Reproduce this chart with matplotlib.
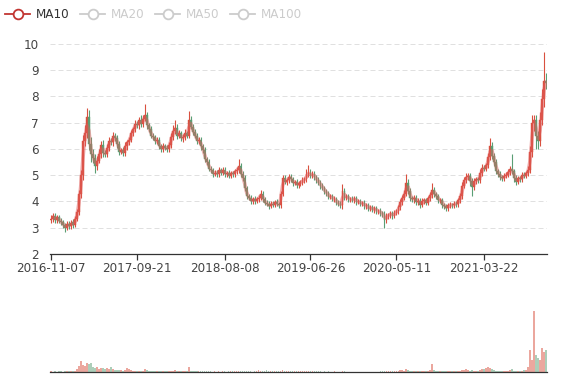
import matplotlib
matplotlib.use("Agg")
import matplotlib.pyplot as plt
import numpy as np
from matplotlib.lines import Line2D

# ---------------- data (weekly candles) ----------------
first_open = 3.3
closes = [
 3.35,3.45,3.3,3.4,3.25,3.2,3.1,3.0,3.15,3.05,
 3.2,3.1,3.35,3.6,4.3,5.0,6.3,6.6,7.2,6.2,
 5.8,5.65,5.35,5.55,5.8,6.15,5.85,5.8,6.05,6.3,
 6.25,6.5,6.4,6.2,5.9,5.95,5.85,6.1,6.25,6.35,
 6.6,6.75,6.95,6.9,7.1,6.95,7.15,7.3,6.9,6.75,
 6.5,6.45,6.3,6.35,6.1,6.0,6.1,6.05,6.0,6.15,
 6.45,6.7,6.8,6.5,6.6,6.4,6.45,6.6,6.5,7.1,
 6.85,6.65,6.5,6.3,6.35,6.1,5.95,5.6,5.5,5.25,
 5.2,5.05,5.1,5.05,5.2,5.1,5.2,5.05,5.1,4.98,
 5.08,5.05,5.15,5.2,5.35,5.05,4.9,4.5,4.2,4.15,
 4.0,4.1,4.02,4.08,4.15,4.3,4.1,3.95,3.92,3.82,
 3.92,3.88,3.98,3.9,3.85,4.3,4.9,4.75,4.8,4.95,
 4.85,4.72,4.75,4.62,4.7,4.72,4.82,4.85,5.05,5.1,
 4.98,5.05,4.92,4.82,4.72,4.6,4.52,4.38,4.32,4.18,
 4.2,4.08,4.1,3.95,3.92,3.85,4.4,4.15,4.2,4.08,
 4.1,4.05,4.12,3.98,4.0,3.92,3.95,3.82,3.85,3.72,
 3.78,3.68,3.74,3.62,3.65,3.55,3.52,3.3,3.45,3.48,
 3.55,3.45,3.58,3.62,3.78,3.98,4.15,4.3,4.7,4.4,
 4.12,4.08,4.15,3.98,4.02,3.88,4.02,4.05,3.95,4.12,
 4.25,4.45,4.28,4.2,4.05,4.05,3.88,3.82,3.75,3.85,
 3.88,3.85,3.92,3.9,4.05,4.2,4.6,4.82,4.92,4.98,
 4.78,4.55,4.78,4.85,4.82,5.1,5.28,5.25,5.38,5.7,
 6.1,5.75,5.5,5.15,5.05,4.92,4.88,4.98,5.02,5.12,
 5.22,5.15,4.9,4.75,4.88,4.85,5.02,4.98,5.08,5.2,
 5.9,7.0,7.1,6.5,6.3,7.1,7.9,8.6,8.5,
]
hi_ext = [
 0.15,0.1,0.12,0.08,0.1,0.12,0.1,0.08,0.1,0.12,
 0.1,0.15,0.1,0.12,0.15,0.2,0.25,0.3,0.35,0.3,
 0.25,0.2,0.15,0.2,0.2,0.15,0.2,0.1,0.15,0.15,
 0.1,0.15,0.1,0.12,0.1,0.1,0.12,0.15,0.1,0.12,
 0.12,0.1,0.15,0.12,0.1,0.2,0.15,0.4,0.1,0.1,
 0.12,0.1,0.1,0.12,0.1,0.1,0.12,0.1,0.1,0.12,
 0.15,0.2,0.3,0.15,0.12,0.1,0.12,0.15,0.1,0.35,
 0.15,0.1,0.1,0.12,0.1,0.1,0.1,0.12,0.1,0.1,
 0.1,0.08,0.1,0.1,0.12,0.08,0.1,0.1,0.08,0.1,
 0.1,0.08,0.1,0.12,0.25,0.1,0.1,0.1,0.1,0.08,
 0.1,0.08,0.1,0.1,0.1,0.12,0.1,0.08,0.1,0.08,
 0.08,0.1,0.08,0.1,0.08,0.1,0.12,0.1,0.1,0.1,
 0.1,0.1,0.08,0.1,0.08,0.1,0.1,0.1,0.2,0.3,
 0.12,0.1,0.1,0.1,0.1,0.08,0.1,0.08,0.1,0.08,
 0.1,0.08,0.1,0.08,0.1,0.08,0.25,0.1,0.1,0.08,
 0.08,0.1,0.08,0.1,0.08,0.1,0.08,0.1,0.08,0.1,
 0.08,0.1,0.08,0.1,0.08,0.1,0.1,0.1,0.1,0.1,
 0.08,0.1,0.08,0.1,0.1,0.12,0.1,0.12,0.35,0.15,
 0.1,0.1,0.1,0.08,0.1,0.1,0.1,0.08,0.1,0.1,
 0.1,0.25,0.1,0.1,0.08,0.1,0.1,0.08,0.1,0.1,
 0.1,0.08,0.1,0.1,0.1,0.12,0.15,0.1,0.15,0.1,
 0.1,0.12,0.1,0.1,0.1,0.15,0.15,0.1,0.1,0.15,
 0.3,0.15,0.1,0.1,0.1,0.1,0.1,0.1,0.1,0.12,
 0.15,0.6,0.1,0.1,0.1,0.1,0.1,0.1,0.1,0.15,
 0.2,0.3,0.2,0.2,0.2,0.3,0.4,1.1,0.3,
]
lo_ext = [
 0.1,0.12,0.1,0.1,0.08,0.1,0.12,0.15,0.1,0.1,
 0.1,0.1,0.08,0.1,0.1,0.15,0.2,0.2,0.2,0.25,
 0.3,0.2,0.25,0.15,0.1,0.15,0.15,0.1,0.1,0.12,
 0.1,0.12,0.1,0.15,0.12,0.1,0.1,0.1,0.12,0.1,
 0.1,0.12,0.1,0.1,0.12,0.1,0.1,0.1,0.15,0.12,
 0.1,0.12,0.1,0.1,0.1,0.12,0.1,0.1,0.12,0.1,
 0.1,0.1,0.12,0.12,0.1,0.1,0.12,0.1,0.1,0.1,
 0.1,0.12,0.1,0.1,0.1,0.12,0.1,0.1,0.12,0.1,
 0.12,0.1,0.08,0.1,0.1,0.1,0.08,0.1,0.1,0.1,
 0.08,0.1,0.1,0.1,0.1,0.1,0.12,0.1,0.1,0.1,
 0.1,0.08,0.1,0.08,0.1,0.1,0.1,0.1,0.08,0.1,
 0.08,0.1,0.1,0.08,0.1,0.1,0.1,0.1,0.12,0.1,
 0.1,0.12,0.1,0.1,0.12,0.1,0.1,0.1,0.1,0.1,
 0.1,0.1,0.12,0.1,0.1,0.12,0.1,0.1,0.12,0.1,
 0.1,0.08,0.1,0.1,0.1,0.1,0.12,0.1,0.1,0.1,
 0.1,0.08,0.1,0.1,0.08,0.1,0.1,0.1,0.12,0.1,
 0.1,0.08,0.1,0.1,0.1,0.1,0.12,0.3,0.1,0.1,
 0.1,0.1,0.08,0.1,0.1,0.1,0.1,0.1,0.1,0.12,
 0.1,0.1,0.12,0.1,0.1,0.12,0.1,0.1,0.1,0.1,
 0.1,0.1,0.12,0.1,0.1,0.1,0.12,0.1,0.1,0.1,
 0.1,0.1,0.08,0.1,0.1,0.1,0.1,0.1,0.12,0.1,
 0.2,0.35,0.1,0.1,0.1,0.1,0.12,0.1,0.1,0.1,
 0.12,0.15,0.15,0.1,0.1,0.12,0.1,0.1,0.1,0.1,
 0.1,0.12,0.15,0.12,0.1,0.1,0.1,0.1,0.1,0.1,
 0.1,0.2,0.3,0.5,0.3,0.2,0.2,0.3,0.2,
]
volumes = [
 0.6,0.5,0.8,0.5,0.6,0.7,0.5,0.6,1.5,0.6,
 0.8,1.2,1.5,3,6,11,7,6,9,8,
 9,5,4,5,3,4,4,3,4,3,
 5,3,2.5,2,2,2,1.5,2,4,3.5,
 2,1.5,1.5,1.5,1,1,1,3,2,1,
 1,0.8,0.8,0.7,0.8,1,0.8,0.7,0.8,1,
 1,1.2,2,1.2,1,0.8,0.8,0.8,0.8,5,
 1.5,1,0.8,0.7,0.6,0.7,0.6,0.7,0.6,0.6,
 0.6,0.5,0.6,0.5,0.6,0.5,0.7,0.6,0.5,0.6,
 0.6,0.7,0.6,0.8,1.5,1,0.8,0.7,0.6,0.7,
 0.6,0.5,0.7,0.8,2.5,1,0.7,0.6,2,0.8,
 0.7,0.6,0.6,0.6,0.7,1.5,2.5,1.5,1.2,1,
 1,1,0.8,0.7,0.6,0.7,0.6,0.8,1.2,1.5,
 0.8,0.7,0.6,0.7,0.6,0.6,0.5,0.6,0.5,0.6,
 0.5,0.5,0.6,0.5,0.5,0.5,1.2,0.6,0.5,0.5,
 0.5,0.4,0.5,0.4,0.5,0.4,0.5,0.4,0.5,0.4,
 0.4,0.5,0.4,0.5,0.5,0.6,0.7,1,0.8,1.5,
 1.2,1.5,1.2,1,1.5,2,2.5,1.5,3,2,
 1.5,1,1,0.8,1,0.8,1,0.8,1,1.5,
 2,8,2,1.5,1,1,0.8,0.7,0.8,0.8,
 0.8,0.8,1,1,1.2,1.5,2,2.5,3,2,
 1.5,2,1.5,1,1.5,2.5,3,3.5,4,5,
 4,3,2,1.5,1.2,1,1,1,1.2,1.5,
 2,3,1.5,1,1,1.2,1.5,2,2.5,5,
 22,12,61,17,14,12,24,20,22,
]
tick_index = [0, 43, 87, 130, 173, 217]
tick_labels = ["2016-11-07", "2017-09-21", "2018-08-08", "2019-06-26", "2020-05-11", "2021-03-22"]
legend_names = ["MA10", "MA20", "MA50", "MA100"]
legend_active = [True, False, False, False]
ma_window = 2  # each candle ~ 5 trading days, so MA10 ~ 2 candles

# ---------------- derived ----------------
c = np.array(closes)
o = np.concatenate([[first_open], c[:-1]])
h = np.maximum(o, c) + np.array(hi_ext)
l = np.minimum(o, c) - np.array(lo_ext)
v = np.array(volumes)
n = len(c)
idx = np.arange(n)
ma = np.convolve(c, np.ones(ma_window) / ma_window, mode="full")[:n]
ma[: ma_window - 1] = np.nan

UP = "#d9503f"
DOWN = "#5a9e74"
MA_COL = "#c23531"
up = c >= o
cols = np.where(up, UP, DOWN)

W, H = 577, 380
fig = plt.figure(figsize=(W / 100, H / 100), dpi=100)
plt.rcParams["font.family"] = ["DejaVu Sans"]
FS = 12 * 0.72

def fx(x):
    return x / W

def fy(y):
    return 1 - y / H

# main price axes: x 50..547, y 44..254
ax = fig.add_axes([fx(50), fy(254), (547 - 50) / W, (254 - 44) / H])
ax.set_xlim(-0.5, n - 0.5)
ax.set_ylim(2, 10)

for yv in range(3, 11):
    ax.axhline(yv, color="#e0e0e0", lw=0.72, ls=(0, (5, 3)), zorder=0)

ax.vlines(idx, l, h, colors=cols, lw=0.8, zorder=2)
body_h = np.maximum(np.abs(c - o), 0.015)
ax.bar(idx, body_h, bottom=np.minimum(o, c), width=0.8, color=cols,
       edgecolor=cols, linewidth=0.3, zorder=3)
ax.plot(idx, ma, color="#e05a5a", lw=2.6, alpha=0.45, zorder=4, solid_capstyle="round")

for s in ["top", "right", "left"]:
    ax.spines[s].set_visible(False)
ax.spines["bottom"].set_color("#333333")
ax.spines["bottom"].set_linewidth(0.9)
ax.set_yticks(range(2, 11))
ax.set_yticklabels([str(t) for t in range(2, 11)], fontsize=FS, color="#444444")
ax.tick_params(axis="y", length=0, pad=8)
ax.set_xticks(tick_index)
ax.set_xticklabels(tick_labels, fontsize=FS, color="#444444")
ax.tick_params(axis="x", length=4, width=0.9, color="#333333", pad=2)

# volume axes: x 50..547, y 300..372
axv = fig.add_axes([fx(50), fy(372), (547 - 50) / W, (372 - 300) / H])
axv.set_xlim(-0.5, n - 0.5)
axv.set_ylim(0, 72)
axv.bar(idx, v, width=0.8, color=cols, alpha=0.5, linewidth=0)
for s in ["top", "right", "left"]:
    axv.spines[s].set_visible(False)
axv.spines["bottom"].set_color("#333333")
axv.spines["bottom"].set_linewidth(0.9)
axv.set_xticks([])
axv.set_yticks([])

# legend
lx = [5, 80, 155, 230]
for x0, name, act in zip(lx, legend_names, legend_active):
    col = MA_COL if act else "#cccccc"
    fig.add_artist(Line2D([fx(x0), fx(x0 + 25)], [fy(14), fy(14)], color=col, lw=1.3,
                          transform=fig.transFigure))
    fig.add_artist(Line2D([fx(x0 + 12.5)], [fy(14)], marker="o", markersize=7.0,
                          markerfacecolor="white", markeredgecolor=col, markeredgewidth=1.3,
                          transform=fig.transFigure))
    fig.text(fx(x0 + 31), fy(14), name, fontsize=FS, color="#333333" if act else "#cccccc",
             va="center", ha="left")

fig.savefig("out.png", dpi=100)
